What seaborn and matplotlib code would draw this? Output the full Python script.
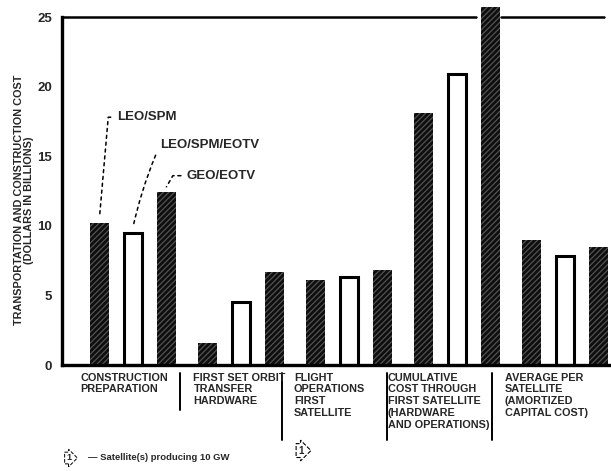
import numpy as np
import pandas as pd
import matplotlib
matplotlib.use("Agg")
import matplotlib.pyplot as plt
import seaborn as sns

# ── Data ─────────────────────────────────────────────────
CATEGORIES = [
    "CONSTRUCTION\nPREPARATION",
    "FIRST SET ORBIT\nTRANSFER\nHARDWARE",
    "FLIGHT\nOPERATIONS\nFIRST\nSATELLITE",
    "CUMULATIVE\nCOST THROUGH\nFIRST SATELLITE\n(HARDWARE\nAND OPERATIONS)",
    "AVERAGE PER\nSATELLITE\n(AMORTIZED\nCAPITAL COST)",
]
CONFIGS = ["LEO/SPM", "LEO/SPM/EOTV", "GEO/EOTV"]
LEO_SPM      = [10.2, 1.6, 6.1, 18.1, 9.0]
LEO_SPM_EOTV = [9.5, 4.5, 6.3, 20.9, 7.8]
GEO_EOTV     = [12.4, 6.7, 6.8, 25.7, 8.5]
Y_TICKS = [0, 5, 10, 15, 20, 25]
YLABEL = "TRANSPORTATION AND CONSTRUCTION COST\n(DOLLARS IN BILLIONS)"
FOOTNOTE = "\u2014 Satellite(s) producing 10 GW"

# label / separator placement relative to group centre (group units)
LABEL_SHIFT = [-0.49, -0.44, -0.51, -0.64, -0.56]
SEP_SHIFT = [-0.565, -0.62, -0.65, -0.68]
SEP_LEN = [-0.13, -0.215, -0.215, -0.215]
# annotation text anchors (data coords)
ANNOT_XY = [(-0.15, 17.8), (0.25, 15.8), (0.5, 13.6)]
ANNOT_CONN = ["angle,angleA=0,angleB=85,rad=0", "arc3,rad=0.05",
              "angle,angleA=0,angleB=60,rad=0"]

rows = []
for cfg, vals in zip(CONFIGS, [LEO_SPM, LEO_SPM_EOTV, GEO_EOTV]):
    for cat, v in zip(CATEGORIES, vals):
        rows.append((cat, cfg, v))
df = pd.DataFrame(rows, columns=["category", "config", "cost"])

# ── Style ─────────────────────────────────────────────────
sns.set_style("white")
plt.rcParams["font.family"] = ["Liberation Sans", "DejaVu Sans"]
plt.rcParams["font.weight"] = "bold"
plt.rcParams["hatch.linewidth"] = 1.0

fig = plt.figure(figsize=(6.11, 4.71), dpi=100)
fig.patch.set_facecolor("white")
ax = fig.add_axes([62 / 611, 106 / 471, 549 / 611, 348 / 471])

sns.barplot(data=df, x="category", y="cost", hue="config", order=CATEGORIES,
            hue_order=CONFIGS, width=0.93, gap=0.45, legend=False,
            errorbar=None, saturation=1, ax=ax)

DARK = dict(facecolor="#0d0d0d", edgecolor="#4d4d4d", hatch="//////", linewidth=0)
styles = [DARK,
          dict(facecolor="white", edgecolor="black", hatch=None, linewidth=2.2),
          DARK]
for cont, st in zip(ax.containers, styles):
    for p in cont:
        p.set_facecolor(st["facecolor"])
        p.set_edgecolor(st["edgecolor"])
        p.set_hatch(st["hatch"])
        p.set_linewidth(st["linewidth"])
        p.set_clip_on(False)

x0, x1 = -0.657, 4.426
ax.set_xlim(x0, x1)
ax.set_ylim(0, 25)
ax.set_xticks([])
ax.set_xlabel("")
ax.set_ylabel("")
ax.set_yticks(Y_TICKS)
ax.set_yticklabels([str(t) for t in Y_TICKS], fontweight="bold")
ax.tick_params(axis="y", direction="in", length=7, width=1.8, pad=7, labelsize=9.5)

for s in ["top", "right"]:
    ax.spines[s].set_visible(False)
for s in ["left", "bottom"]:
    ax.spines[s].set_linewidth(2.4)
    ax.spines[s].set_color("black")

# broken top frame line around the tallest bar
tall = max(ax.patches, key=lambda p: p.get_height())
gl = (tall.get_x() - 0.05 - x0) / (x1 - x0)
gr = (tall.get_x() + tall.get_width() + 0.01 - x0) / (x1 - x0)
ax.axhline(25, xmin=0, xmax=gl, color="black", lw=1.8, clip_on=False)
ax.axhline(25, xmin=gr, xmax=0.987, color="black", lw=1.8, clip_on=False)

# category labels and separators under the axis
xt = ax.get_xaxis_transform()
for i, (lab, sh) in enumerate(zip(CATEGORIES, LABEL_SHIFT)):
    ax.text(i + sh, -0.022, lab, transform=xt, ha="left", va="top",
            fontsize=7.8, fontweight="bold", linespacing=1.22)
for i, (sh, ln) in enumerate(zip(SEP_SHIFT, SEP_LEN)):
    ax.plot([i + 1 + sh] * 2, [-0.022, ln], transform=xt, color="black",
            lw=1.4, clip_on=False)

# flag "1" under flight operations
ax.annotate("1", xy=(2 + LABEL_SHIFT[2], 0), xycoords=xt,
            xytext=(3, -58), textcoords="offset points", ha="left", va="top",
            fontsize=7, fontweight="bold",
            bbox=dict(boxstyle="rarrow,pad=0.2", fc="white", ec="black",
                      ls="--", lw=0.8))

# series annotations with dotted leaders
first = [cont[0] for cont in ax.containers]
for cfg, p, xy, conn in zip(CONFIGS, first, ANNOT_XY, ANNOT_CONN):
    bx = p.get_x() + p.get_width() / 2
    ax.annotate(cfg, xy=(bx, p.get_height() + 0.4), xytext=xy,
                ha="left", va="center", fontsize=9.5, fontweight="bold",
                arrowprops=dict(arrowstyle="-", color="black", lw=1.1,
                                linestyle=(0, (2, 2.5)), relpos=(0, 0.5),
                                shrinkA=2, shrinkB=0, connectionstyle=conn))

fig.text(24 / 611, 1 - 200 / 471, YLABEL, rotation=90, ha="center", va="center",
         fontsize=7.8, fontweight="bold", linespacing=1.0, multialignment="center")

fig.text(66 / 611, 1 - 458 / 471, "1", ha="left", va="center", fontsize=6.5,
         fontweight="bold",
         bbox=dict(boxstyle="rarrow,pad=0.15", fc="white", ec="black",
                   ls="--", lw=0.7))
fig.text(88 / 611, 1 - 458 / 471, FOOTNOTE, ha="left", va="center",
         fontsize=6.8, fontweight="bold")

fig.savefig("out.png", dpi=100)
plt.close(fig)
